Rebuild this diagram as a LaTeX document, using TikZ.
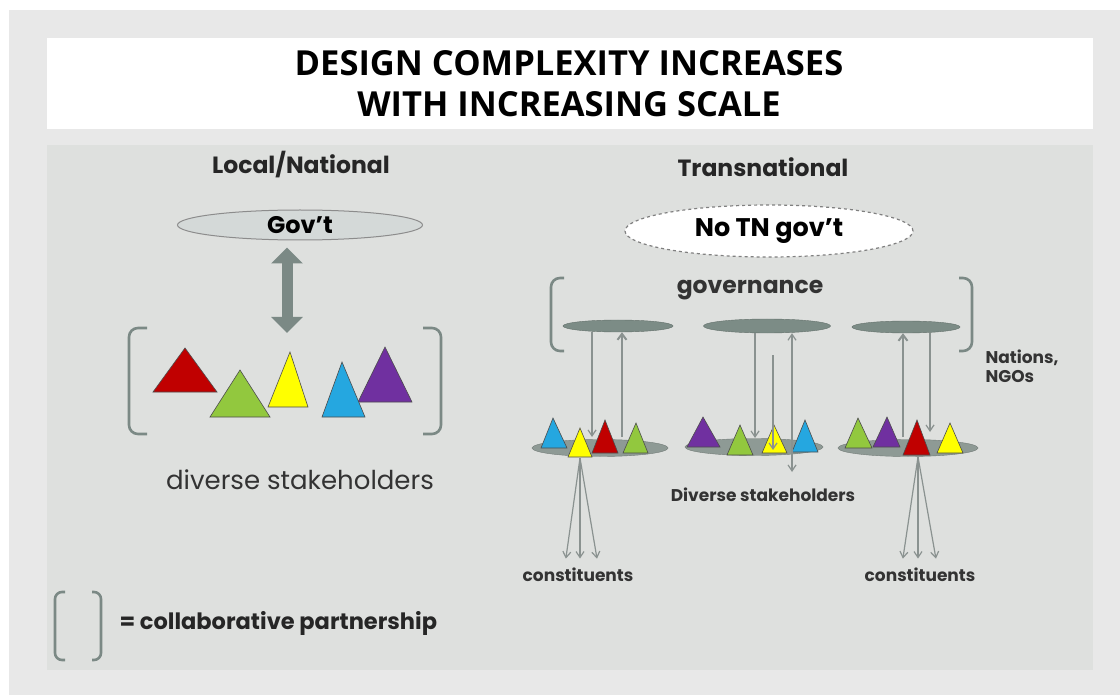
\documentclass[tikz,border=0pt]{standalone}
\usepackage{fontspec}
\setmainfont{Poppins}
\newfontfamily\titlefont{Open Sans}
\usetikzlibrary{shapes.geometric,arrows.meta}
\definecolor{outergrey}{HTML}{E8E8E8}
\definecolor{slidegrey}{HTML}{DEE0DE}
\definecolor{bracketgrey}{HTML}{7B8985}
\definecolor{govfill}{HTML}{D4D9D8}
\definecolor{govdark}{HTML}{7C8C86}
\definecolor{stakefill}{HTML}{8E9A95}
\definecolor{thinarrow}{HTML}{8A9290}
\definecolor{tred}{HTML}{C00000}
\definecolor{tgreen}{HTML}{92C83E}
\definecolor{tyellow}{HTML}{FFFF00}
\definecolor{tblue}{HTML}{25A7E0}
\definecolor{tpurple}{HTML}{7030A0}

\begin{document}
\begin{tikzpicture}[x=1pt, y=-1pt,
  bracketline/.style={draw=bracketgrey, line width=2.6pt, rounded corners=9pt},
  stakeholder/.style={draw=black!70, line width=0.6pt},
  thinline/.style={draw=thinarrow, line width=1.2pt, -{Straight Barb[length=6pt,width=8pt]}},
  upline/.style={draw=thinarrow, line width=2pt, -{Straight Barb[length=6pt,width=9pt]}},
  govdisc/.style={ellipse, fill=govdark, draw=govdark!80!black, line width=0.4pt, inner sep=0pt},
  stakedisc/.style={ellipse, fill=stakefill, draw=stakefill!80!black, line width=0.4pt, inner sep=0pt},
  heading/.style={font=\bfseries\fontsize{23.5}{26}\selectfont, text=black!85},
  smalllabel/.style={font=\bfseries\fontsize{17}{19}\selectfont, text=black!80}]
\useasboundingbox (0,0) rectangle (1120,695);
\fill[white] (0,0) rectangle (1120,695);
\fill[outergrey] (9,10) rectangle (1120,695);
\fill[white] (47,38) rectangle (1093,129);
\fill[slidegrey] (47,145) rectangle (1093,670);

\node[font=\titlefont\bfseries\fontsize{34.5}{41}\selectfont, align=center] (title) at (569,84)
  {DESIGN COMPLEXITY INCREASES\\WITH INCREASING SCALE};

\node[heading] (local) at (301,165) {Local/National};
\node[ellipse, draw=black!45, fill=govfill, line width=1pt, minimum width=245pt, minimum height=30pt,
  inner sep=0pt, font=\bfseries\fontsize{24}{26}\selectfont] (gov) at (300,225) {Gov't};
\coordinate (govdown) at (287,333);
\draw[draw=bracketgrey, line width=11pt, shorten <=7pt,
  {Triangle[length=16pt,width=31pt]}-{Triangle[length=16pt,width=31pt]}] (gov.south -| govdown) -- (govdown);
\draw[bracketline] (147,328) -- (129,328) -- (129,434) -- (147,434);
\draw[bracketline] (423,328) -- (441,328) -- (441,434) -- (423,434);
\filldraw[stakeholder, fill=tred] (185,348) -- (153,392) -- (217,392) -- cycle;
\filldraw[stakeholder, fill=tgreen] (240,370) -- (210,417) -- (270,417) -- cycle;
\filldraw[stakeholder, fill=tyellow] (290,352) -- (268,407) -- (308,407) -- cycle;
\filldraw[stakeholder, fill=tpurple] (385,347) -- (358,402) -- (412,402) -- cycle;
\filldraw[stakeholder, fill=tblue] (342,362) -- (322,417) -- (365,417) -- cycle;
\node[font=\fontsize{26}{28}\selectfont, text=black!80] (diverse) at (300,480) {diverse stakeholders};

\node[heading] (trans) at (763,167) {Transnational};
\node[ellipse, draw=black!50, dashed, fill=white, line width=1.2pt, minimum width=288pt, minimum height=52pt,
  inner sep=0pt, font=\bfseries\fontsize{25.5}{28}\selectfont] (nogov) at (769,231) {No TN gov't};
\node[font=\bfseries\fontsize{23.5}{26}\selectfont, text=black!80] (governance) at (750,290) {governance};
\draw[bracketline] (564,278) -- (551,278) -- (551,351) -- (564,351);
\draw[bracketline] (959,278) -- (972,278) -- (972,351) -- (959,351);
\node[smalllabel, align=left, anchor=west] (nations) at (982,366) {Nations,\\NGOs};

\node[govdisc, minimum width=110pt, minimum height=12pt] (govA) at (618,326) {};
\node[govdisc, minimum width=127pt, minimum height=14pt] (govB) at (767,326) {};
\node[govdisc, minimum width=108pt, minimum height=12pt] (govC) at (906,327) {};
\node[stakedisc, minimum width=136pt, minimum height=17pt] (stA) at (600,448) {};
\node[stakedisc, minimum width=138pt, minimum height=17pt] (stB) at (754,447) {};
\node[stakedisc, minimum width=140pt, minimum height=17pt] (stC) at (908,448) {};

\filldraw[stakeholder, fill=tblue] (553,418) -- (541,448) -- (567,448) -- cycle;
\filldraw[stakeholder, fill=tred] (605,420) -- (592,453) -- (618,453) -- cycle;
\filldraw[stakeholder, fill=tgreen] (636,423) -- (623,453) -- (648,453) -- cycle;
\filldraw[stakeholder, fill=tyellow] (580,428) -- (568,457) -- (592,457) -- cycle;

\filldraw[stakeholder, fill=tpurple] (703,417) -- (687,447) -- (720,447) -- cycle;
\filldraw[stakeholder, fill=tgreen] (740,425) -- (727,455) -- (753,455) -- cycle;
\filldraw[stakeholder, fill=tyellow] (774,425) -- (762,453) -- (787,453) -- cycle;
\filldraw[stakeholder, fill=tblue] (805,420) -- (792,452) -- (818,452) -- cycle;

\filldraw[stakeholder, fill=tgreen] (858,418) -- (845,448) -- (872,448) -- cycle;
\filldraw[stakeholder, fill=tpurple] (887,417) -- (873,447) -- (900,447) -- cycle;
\filldraw[stakeholder, fill=tred] (917,420) -- (903,455) -- (930,455) -- cycle;
\filldraw[stakeholder, fill=tyellow] (950,423) -- (937,453) -- (963,453) -- cycle;

\draw[thinline] (govA.south -| 592,0) -- (592,437);
\draw[upline] (622,437) -- (govA.south -| 622,0);
\draw[thinline] (govB.south -| 755,0) -- (755,438);
\draw[thinline] (773,355) -- (773,450);
\draw[thinline, {Straight Barb[length=6pt,width=8pt]}-{Straight Barb[length=6pt,width=8pt]}] (govB.south -| 792,0) -- (792,472);
\draw[upline] (903,437) -- (govC.south -| 903,0);
\draw[thinline] (govC.south -| 930,0) -- (930,432);

\node[smalllabel] (diverseTN) at (763,495) {Diverse stakeholders};
\node[smalllabel] (consA) at (578,575) {constituents};
\node[smalllabel] (consC) at (920,575) {constituents};
\coordinate (fanA) at (580,458);
\coordinate (fanC) at (918,457);
\draw[thinline, shorten >=6pt] (fanA) -- (consA.north -| 565,0);
\draw[thinline, shorten >=6pt] (fanA) -- (consA.north -| 580,0);
\draw[thinline, shorten >=6pt] (fanA) -- (consA.north -| 598,0);
\draw[thinline, shorten >=6pt] (fanC) -- (consC.north -| 902,0);
\draw[thinline, shorten >=6pt] (fanC) -- (consC.north -| 918,0);
\draw[thinline, shorten >=6pt] (fanC) -- (consC.north -| 937,0);

\draw[bracketline, rounded corners=7pt] (65,592) -- (55,592) -- (55,660) -- (65,660);
\draw[bracketline, rounded corners=7pt] (92,592) -- (101,592) -- (101,660) -- (92,660);
\node[font=\bfseries\fontsize{22.5}{25}\selectfont, text=black!85, anchor=west] (legend) at (116,623) {= collaborative partnership};
\end{tikzpicture}
\end{document}
